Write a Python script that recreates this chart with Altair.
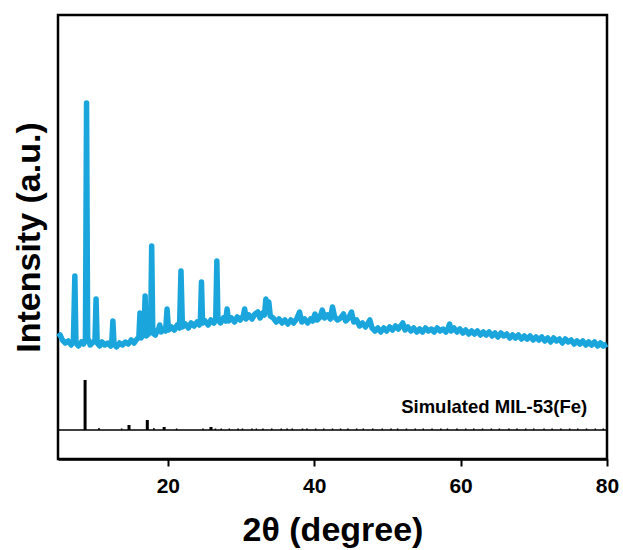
import altair as alt
import pandas as pd

# Measured XRD pattern (2θ in degrees, intensity in a.u.)
two_theta = [
    5.0, 5.3, 5.6, 6.0, 6.4, 6.8, 7.1, 7.3, 7.45, 7.8, 8.2, 8.5, 8.75, 8.9, 9.05, 9.4, 9.8,
    10.05, 10.2, 10.35, 10.7, 11.0, 11.4, 11.8, 12.2, 12.35, 12.5, 12.65, 13.0, 13.4, 13.8,
    14.2, 14.6, 15.0, 15.4, 15.8, 16.05, 16.2, 16.35, 16.55, 16.75, 16.9, 17.05, 17.35, 17.65,
    17.8, 17.95, 18.3, 18.6, 18.75, 18.9, 19.1, 19.4, 19.7, 19.9, 20.1, 20.5, 20.9, 21.3, 21.6,
    21.8, 22.0, 22.4, 22.8, 23.2, 23.6, 24.0, 24.3, 24.45, 24.6, 24.75, 25.1, 25.5, 25.9, 26.3,
    26.55, 26.7, 26.85, 27.2, 27.6, 27.9, 28.1, 28.3, 28.7, 29.1, 29.5, 29.9, 30.3, 30.5, 30.7,
    31.1, 31.5, 31.9, 32.3, 32.6, 33.0, 33.2, 33.4, 33.6, 33.8, 34.0, 34.4, 34.8, 35.2, 35.6,
    36.0, 36.4, 36.8, 37.2, 37.6, 38.0, 38.3, 38.7, 39.1, 39.5, 39.8, 40.1, 40.4, 40.8, 41.1,
    41.4, 41.8, 42.2, 42.5, 42.8, 43.2, 43.6, 44.0, 44.3, 44.7, 45.1, 45.4, 45.8, 46.2, 46.6,
    47.0, 47.3, 47.6, 47.9, 48.3, 48.7, 49.1, 49.5, 49.9, 50.3, 50.7, 51.1, 51.5, 51.8, 52.1,
    52.4, 52.8, 53.2, 53.6, 54.0, 54.4, 54.8, 55.2, 55.6, 56.0, 56.4, 56.8, 57.2, 57.6, 58.0,
    58.3, 58.5, 58.7, 59.1, 59.5, 59.9, 60.3, 60.7, 61.1, 61.5, 61.9, 62.3, 62.7, 63.1, 63.5,
    63.9, 64.3, 64.7, 65.1, 65.5, 65.9, 66.3, 66.7, 67.1, 67.5, 67.9, 68.3, 68.7, 69.1, 69.5,
    69.9, 70.3, 70.7, 71.1, 71.5, 71.9, 72.3, 72.7, 73.1, 73.5, 73.9, 74.3, 74.7, 75.1, 75.5,
    75.9, 76.3, 76.7, 77.1, 77.5, 77.9, 78.3, 78.7, 79.1, 79.5, 80.0,
]
intensity = [
    122, 124, 119, 116, 118, 114, 117, 183, 116, 113, 117, 115, 120, 356, 121, 114, 117,
    118, 160, 116, 113, 117, 114, 116, 113, 117, 138, 115, 112, 116, 114,
    117, 115, 119, 116, 120, 122, 146, 121, 124, 125, 163, 123, 125, 127,
    213, 126, 124, 129, 130, 134, 127, 130, 128, 150, 129, 132, 129, 134, 131,
    188, 132, 135, 131, 136, 133, 137, 134, 138, 177, 136, 138, 134, 139, 136,
    140, 198, 139, 136, 141, 138, 150, 138, 141, 137, 142, 139, 143, 150, 140,
    144, 140, 145, 147, 141, 146, 144, 160, 148, 157, 143, 141, 137, 140, 136,
    139, 135, 139, 136, 140, 147, 137, 140, 136, 140, 138, 145, 139, 142, 149,
    141, 144, 140, 152, 142, 139, 141, 145, 138, 141, 147, 137, 139, 133, 136,
    132, 135, 139, 131, 128, 131, 127, 131, 128, 132, 129, 133, 130, 133, 136,
    129, 132, 128, 131, 127, 130, 127, 131, 128, 130, 127, 131, 128, 130, 127,
    131, 135, 128, 131, 127, 130, 126, 129, 125, 128, 125, 128, 124, 127, 124,
    127, 123, 126, 122, 126, 123, 125, 121, 124, 121, 124, 120, 123, 120, 123,
    119, 122, 119, 122, 118, 121, 117, 121, 118, 120, 116, 120, 117, 119, 115,
    118, 115, 118, 114, 117, 114, 117, 113, 116, 113, 115,
]

# Simulated MIL-53(Fe) reflections: stronger lines
sim_major_two_theta = [8.7, 14.7, 17.2, 19.5, 25.9]
sim_major_top = [79, 34, 39, 32, 32]
# weak lines
sim_minor_two_theta = [
    10.6, 13.7, 18.1, 21.2, 24.8, 26.5, 27.3, 28.4, 29.6, 30.2, 31.5, 32.1, 33.0, 34.2,
    35.5, 36.3, 37.0, 38.4, 39.0, 40.2, 41.3, 42.5, 43.6, 44.6, 45.8, 46.7, 48.0, 49.3,
    50.5, 51.4, 52.6, 53.8, 54.9, 56.1, 57.3, 58.2, 59.5, 60.7, 61.8, 63.0, 64.2, 65.3,
    66.6, 67.7, 68.9, 70.0, 71.4, 72.5, 73.7, 74.9, 76.0, 77.2, 78.4, 79.5,
]
sim_minor_top = [
    31, 30.5, 31, 30.5, 30.5, 30.5, 30.5, 30.5, 30.5, 30.5, 30.5, 30.5, 30.5, 30.5,
    30.5, 30.5, 30.5, 30.5, 30.5, 30.5, 30.5, 30.5, 30.5, 30.5, 30.5, 30.5, 30.5, 30.5,
    30.5, 30.5, 30.5, 30.5, 30.5, 30.5, 30.5, 30.5, 30.5, 30.5, 30.5, 30.5, 30.5, 30.5,
    30.5, 30.5, 30.5, 30.5, 30.5, 30.5, 30.5, 30.5, 30.5, 30.5, 30.5, 30.5,
]
sim_baseline = 29
sim_label = "Simulated MIL-53(Fe)"

x_ticks = [20, 40, 60, 80]
x_domain = [5, 80]
y_domain = [0, 444]

FONT = "Liberation Sans"
BLUE = "#1AA6DC"

df = pd.DataFrame({"two_theta": two_theta, "intensity": intensity})
sim_major = pd.DataFrame({"two_theta": sim_major_two_theta, "top": sim_major_top})
sim_minor = pd.DataFrame({"two_theta": sim_minor_two_theta, "top": sim_minor_top})

x_enc = alt.X(
    "two_theta:Q",
    scale=alt.Scale(domain=x_domain, nice=False, zero=False),
    axis=alt.Axis(
        values=x_ticks, title="2θ (degree)", grid=False, labelFlush=False,
        tickSize=7, tickWidth=2, tickColor="black", domainColor="black", domainWidth=2.5,
        labelFont=FONT, labelFontSize=21, labelFontWeight="bold", labelColor="black",
        labelPadding=9, titleFont=FONT, titleFontSize=34, titleFontWeight="bold",
        titleColor="black", titlePadding=17,
    ),
)
y_scale = alt.Scale(domain=y_domain, nice=False, zero=False)
y_axis = alt.Axis(
    labels=False, ticks=False, domain=False, grid=False, title="Intensity (a.u.)",
    titleFont=FONT, titleFontSize=34, titleFontWeight="bold", titleColor="black",
    titlePadding=12,
)

line = alt.Chart(df).mark_line(color=BLUE, strokeWidth=5.5, strokeJoin="round").encode(
    x=x_enc,
    y=alt.Y("intensity:Q", scale=y_scale, axis=y_axis),
)

sticks_major = alt.Chart(sim_major).mark_rule(color="black", strokeWidth=3).encode(
    x=alt.X("two_theta:Q"),
    y=alt.Y("top:Q"),
    y2=alt.datum(sim_baseline),
)
sticks_minor = alt.Chart(sim_minor).mark_rule(color="black", strokeWidth=1.5).encode(
    x=alt.X("two_theta:Q"),
    y=alt.Y("top:Q"),
    y2=alt.datum(sim_baseline),
)

base_line = alt.Chart(pd.DataFrame({"b": [sim_baseline]})).mark_rule(
    color="black", strokeWidth=1.5
).encode(y=alt.Y("b:Q"))

label = alt.Chart(pd.DataFrame({"t": [sim_label]})).mark_text(
    font=FONT, fontSize=18.5, fontWeight="bold", color="black", align="right", baseline="middle"
).encode(x=alt.datum(77.3), y=alt.datum(52), text="t:N")

chart = alt.layer(line, sticks_major, sticks_minor, base_line, label).properties(
    width=549, height=444,
    autosize=alt.AutoSizeParams(type="none"),
    padding={"left": 58, "top": 15, "right": 16, "bottom": 91},
).configure(
    background="white",
    view=alt.ViewConfig(stroke="black", strokeWidth=2.5),
)

chart.save("out.html", embed_options={"renderer": "svg", "actions": False})
